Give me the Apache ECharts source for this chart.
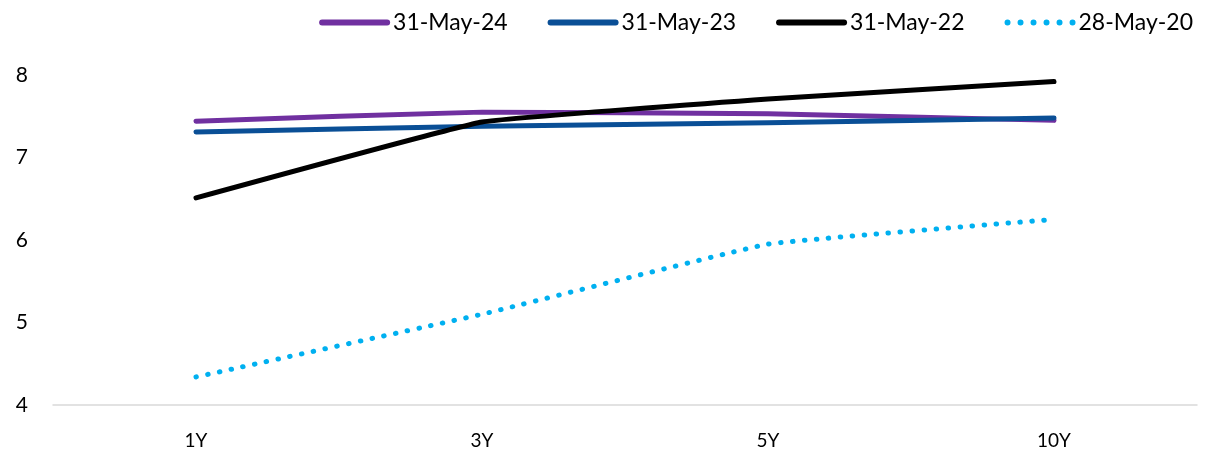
<!DOCTYPE html>
<html>
<head>
<meta charset="utf-8">
<script src="https://cdn.jsdelivr.net/npm/echarts@6/dist/echarts.min.js"></script>
<style>
  html, body { margin: 0; padding: 0; background: #fff; }
  #chart { width: 1211px; height: 462px; }
</style>
</head>
<body>
<div id="chart"></div>
<script>
// Yield curve snapshots by tenor
const tenors = ['1Y', '3Y', '5Y', '10Y'];
const may24 = [7.44, 7.55, 7.53, 7.45];
const may23 = [7.31, 7.38, 7.42, 7.48];
const may22 = [6.51, 7.43, 7.71, 7.92];
const may20 = [4.34, 5.10, 5.95, 6.25];
const yTicks = [4, 5, 6, 7, 8];

const font = 'Lato, "Open Sans", sans-serif';

// legend swatches: a thick rounded bar, and a row of dots for the dotted series
const ICON_W = 71;
const ICON_H = 6;
const barIcon = 'path://M3,0 L68,0 A3,3 0 0,1 68,6 L3,6 A3,3 0 0,1 3,0 Z';
let dotPath = '';
for (let cx = 3; cx <= ICON_W - 3; cx += 13) {
  dotPath += 'M' + (cx - 3) + ',3 A3,3 0 1,0 ' + (cx + 3) + ',3 A3,3 0 1,0 ' + (cx - 3) + ',3 Z ';
}
dotPath += 'M0,0 M71,6';
const dotIcon = 'path://' + dotPath;

function lineSeries(name, data, color, dashed) {
  return {
    name: name,
    type: 'line',
    data: data,
    smooth: 0.08,
    symbol: 'none',
    lineStyle: {
      color: color,
      width: 5,
      cap: 'round',
      join: 'round',
      type: dashed ? [0.5, 11.5] : 'solid'
    },
    itemStyle: { color: color }
  };
}

const chart = echarts.init(document.getElementById('chart'), null, { renderer: 'canvas' });
chart.setOption({
  animation: false,
  backgroundColor: '#ffffff',
  grid: { left: 53, right: 14, top: 75, bottom: 57, containLabel: false },
  legend: {
    top: 6,
    right: 13,
    itemWidth: ICON_W,
    itemHeight: ICON_H,
    itemGap: 40,
    textStyle: { fontFamily: font, fontSize: 23, color: '#000', padding: [0, 0, 0, -2] },
    itemStyle: { borderWidth: 0 },
    lineStyle: { width: 0 },
    data: [
      { name: '31-May-24', icon: barIcon },
      { name: '31-May-23', icon: barIcon },
      { name: '31-May-22', icon: barIcon },
      { name: '28-May-20', icon: dotIcon }
    ]
  },
  xAxis: {
    type: 'category',
    data: tenors,
    boundaryGap: true,
    axisLine: { lineStyle: { color: '#d9d9d9', width: 1.5 } },
    axisTick: { show: false },
    axisLabel: { fontFamily: font, fontSize: 19, color: '#000', margin: 26 }
  },
  yAxis: {
    type: 'value',
    min: yTicks[0],
    max: yTicks[yTicks.length - 1],
    interval: 1,
    splitLine: { show: false },
    axisLine: { show: false },
    axisTick: { show: false },
    axisLabel: { fontFamily: font, fontSize: 21, color: '#000', margin: 25 }
  },
  series: [
    lineSeries('31-May-24', may24, '#7030a0', false),
    lineSeries('31-May-23', may23, '#0a4f96', false),
    lineSeries('31-May-22', may22, '#000000', false),
    lineSeries('28-May-20', may20, '#00b0f0', true)
  ]
});
</script>
</body>
</html>
